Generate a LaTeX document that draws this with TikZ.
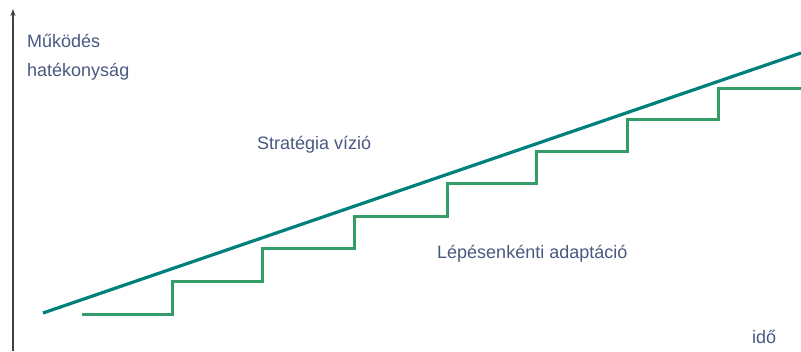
\documentclass[tikz,border=0pt]{standalone}
\usepackage{fontspec}
\setmainfont{Liberation Sans}
\usetikzlibrary{arrows.meta}
\definecolor{VisionTeal}{RGB}{0,128,124}
\definecolor{StepGreen}{RGB}{52,156,104}
\definecolor{LabelSlate}{RGB}{74,88,128}
\tikzset{
    label text/.style={font=\fontsize{18}{20}\selectfont, text=LabelSlate, inner sep=0pt, anchor=west},
}
\begin{document}
\begin{tikzpicture}[x=1pt,y=-1pt]
            \useasboundingbox (0, 0) rectangle (801, 351);

            %axis
            \coordinate (axisbot) at (13, 351);
            \coordinate (axistop) at (13, 9);
            \draw[-{Stealth[length=7pt,width=5pt]}, line width=1.2pt, black!75] (axisbot) -- (axistop);

            \coordinate (visstart) at (43, 313);
            \coordinate (visend) at (801, 53);
            \draw[line width=3.2pt, VisionTeal] (visstart) -- (visend);

            %steps
            \draw[line width=3pt, StepGreen] (82, 314) -- (172, 314) -- (172, 281) -- (262, 281) -- (262, 248)
                -- (354, 248) -- (354, 216) -- (447, 216) -- (447, 183) -- (536, 183) -- (536, 151)
                -- (627, 151) -- (627, 119) -- (718, 119) -- (718, 88) -- (801, 88);

            \node[label text] (ylabA) at (27, 41) {Működés};
            \node[label text] (ylabB) at (27, 72) {hatékonyság};
            \node[label text] (vision) at (257, 145) {Stratégia vízió};
            \node[label text] (adapt) at (437, 254) {Lépésenkénti adaptáció};
            \node[label text] (time) at (752, 337) {idő};
\end{tikzpicture}
\end{document}
